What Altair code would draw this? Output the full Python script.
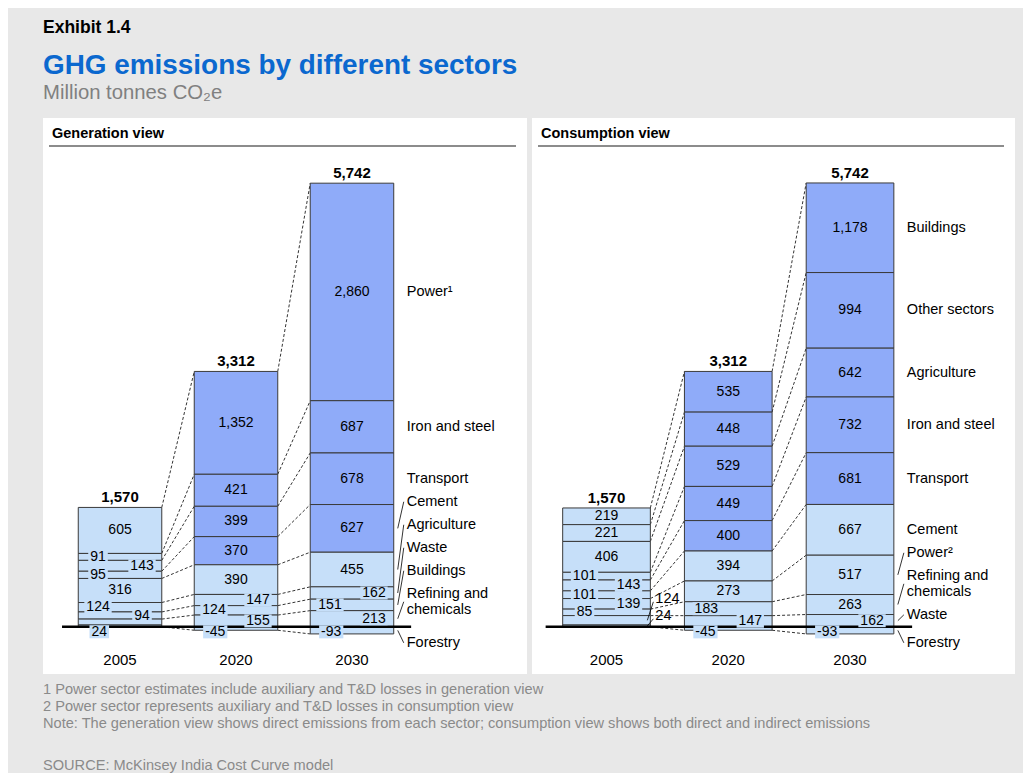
import altair as alt
import pandas as pd

# ---------------- data ----------------
YEARS = [2005, 2020, 2030]

GEN_SECTORS = ["Power¹", "Iron and steel", "Transport", "Cement", "Agriculture",
               "Waste", "Buildings", "Refining and\nchemicals", "Forestry"]
GEN_2005 = [605, 91, 143, 95, 316, 124, 94, 78, 24]
GEN_2020 = [1352, 421, 399, 370, 390, 147, 124, 155, -45]
GEN_2030 = [2860, 687, 678, 627, 455, 162, 151, 213, -93]
GEN_TOTALS = [1570, 3312, 5742]
GEN_DARK = ["Power¹", "Iron and steel", "Transport", "Cement"]

CON_SECTORS = ["Buildings", "Other sectors", "Agriculture", "Iron and steel", "Transport",
               "Cement", "Power²", "Refining and\nchemicals", "Waste", "Forestry"]
CON_2005 = [219, 221, 406, 101, 143, 101, 139, 85, 124, 24]
CON_2020 = [535, 448, 529, 449, 400, 394, 273, 183, 147, -45]
CON_2030 = [1178, 994, 642, 732, 681, 667, 517, 263, 162, -93]
CON_TOTALS = [1570, 3312, 5742]
CON_DARK = ["Buildings", "Other sectors", "Agriculture", "Iron and steel", "Transport"]

EXHIBIT = "Exhibit 1.4"
TITLE = "GHG emissions by different sectors"
SUBTITLE = "Million tonnes CO₂e"
PANEL_TITLES = ["Generation view", "Consumption view"]
FOOTNOTES = [
    "1 Power sector estimates include auxiliary and T&D losses in generation view",
    "2 Power sector represents auxiliary and T&D losses in consumption view",
    "Note: The generation view shows direct emissions from each sector; consumption view shows both direct and indirect emissions",
]
SOURCE = "SOURCE: McKinsey India Cost Curve model"

# ---------------- style ----------------
FONT = "Liberation Sans"
DARK = "#8FABF9"
LIGHT = "#C6DFF9"
EDGE = "#3A3A3A"
BG = "#E8E8E8"
TITLE_BLUE = "#0B68CF"
NOTE_GREY = "#8A8A8A"
FS = 14
FS_LABEL = 14.5
FS_NOTE = 14.6

PANEL_H = 556
Y_DOMAIN = [-620, 6690]
PPU = PANEL_H / (Y_DOMAIN[1] - Y_DOMAIN[0])  # pixels per data unit
BAR_HALF = 0.36
CENTER_MIN = 215
BIG_MIN = 635

ONE = pd.DataFrame({"k": [0]})


def text_w(s, size=FS):
    w = 0.0
    for ch in s:
        if ch.isdigit():
            w += 0.556
        elif ch == "-":
            w += 0.333
        elif ch == ",":
            w += 0.278
        else:
            w += 0.556
    return w * size


def fmt(v):
    return f"{v:,}"


def ptext(text, x, y, size, color="black", weight="normal", baseline="alphabetic"):
    return alt.Chart(ONE).mark_text(
        text=text, align="left", baseline=baseline, font=FONT, fontSize=size,
        fontWeight=weight, color=color
    ).encode(x=alt.value(x), y=alt.value(y))


def panel(idx_panel, sectors, series, totals, dark, width, xdom, overrides, extra_layers):
    pxu = width / (xdom[1] - xdom[0])
    xs = alt.Scale(domain=xdom, nice=False, zero=False)
    ys = alt.Scale(domain=Y_DOMAIN, nice=False, zero=False)

    segs = []
    for i, (year, vals) in enumerate(zip(YEARS, series)):
        pos, neg = 0.0, 0.0
        spans = {}
        for s, v in list(zip(sectors, vals))[::-1]:
            if v >= 0:
                spans[s] = (pos, pos + v)
                pos += v
            else:
                spans[s] = (neg + v, neg)
                neg += v
        for s, v in zip(sectors, vals):
            y0, y1 = spans[s]
            segs.append(dict(year=year, idx=i, sector=s, value=v, y0=y0, y1=y1,
                             mid=(y0 + y1) / 2, x0=i - BAR_HALF, x1=i + BAR_HALF,
                             fill=DARK if (year != YEARS[0] and s in dark) else LIGHT))
    seg = pd.DataFrame(segs)

    centered, boxes, lefts, leads, conns, tots = [], [], [], [], [], []
    for i, year in enumerate(YEARS):
        bar = seg[seg.year == year].reset_index(drop=True)
        forest_neg = bar.loc[bar.sector == "Forestry", "value"].iloc[0] < 0
        modes = []
        for _, r in bar.iterrows():
            key = (year, r.sector)
            if key in overrides:
                m = overrides[key]
            elif r.sector == "Forestry":
                m = "box"
            elif abs(r.value) >= CENTER_MIN:
                m = "center"
            else:
                m = "side"
            modes.append(m)
        runs, cur = [], []
        for k, m in enumerate(modes):
            if m == "side":
                cur.append(k)
            else:
                if cur:
                    runs.append(cur)
                cur = []
        if cur:
            runs.append(cur)
        sides = {}
        for run in runs:
            seq = run[::-1] if forest_neg else run
            first = 1 if forest_neg else -1
            for j, k in enumerate(seq):
                sides[k] = first if j % 2 == 0 else -first
        n_out = 0
        for k in range(len(bar) - 1, -1, -1):
            r = bar.loc[k]
            m = modes[k]
            t = fmt(int(r.value))
            tw = text_w(t)
            if m == "center":
                centered.append(dict(x=i, y=r.mid, text=t))
            elif m in ("side", "box"):
                if m == "side":
                    cx = i + sides[k] * 22 / pxu
                    cy = r.mid
                else:
                    cx = i - BAR_HALF + 21 / pxu
                    cy = -5 / PPU
                centered.append(dict(x=cx, y=cy, text=t))
                boxes.append(dict(x=cx - (tw + 4) / 2 / pxu, x2=cx + (tw + 4) / 2 / pxu,
                                  y=cy - 6.5 / PPU, y2=cy + 6.5 / PPU, fill=r.fill))
            elif m == "outside":
                ly = (11 + 17 * n_out) / PPU
                n_out += 1
                lefts.append(dict(x=i + BAR_HALF + 5 / pxu, y=ly, text=t))
                leads.append(dict(x=i + BAR_HALF - 3 / pxu, y=r.mid,
                                  x2=i + BAR_HALF + 3 / pxu, y2=ly - 3 / PPU))
        tots.append(dict(x=i, y=bar.y1.max(), text=fmt(totals[i])))

    # sector names to the right of the last bar
    last = seg[seg.idx == len(YEARS) - 1].reset_index(drop=True)
    li = len(YEARS) - 1
    prev_first, prev_lines = None, 1
    for _, r in last.iterrows():
        lines = r.sector.count("\n") + 1
        mid_px = -r.mid * PPU
        if r.sector == "Forestry":
            first, listed = 16, True
        elif abs(r.value) >= BIG_MIN or prev_first is None:
            first, listed = mid_px, False
        else:
            first, listed = prev_first + 16 * (prev_lines - 1) + 23, True
        center = first + 8 * (lines - 1)
        # multi-line text: the first line sits at y, further lines go down
        lefts.append(dict(x=li + BAR_HALF + 13 / pxu, y=-first / PPU, text=r.sector))
        if listed:
            leads.append(dict(x=li + BAR_HALF + 4 / pxu, y=r.mid,
                              x2=li + BAR_HALF + 10 / pxu, y2=-center / PPU))
        prev_first, prev_lines = first, lines

    for i in range(len(YEARS) - 1):
        a = seg[seg.idx == i].set_index("sector")
        b = seg[seg.idx == i + 1].set_index("sector")
        for s in sectors:
            col = "y0" if s == "Forestry" else "y1"
            conns.append(dict(x=i + BAR_HALF, x2=i + 1 - BAR_HALF,
                              y=a.loc[s, col], y2=b.loc[s, col]))

    X = lambda f: alt.X(f, type="quantitative", scale=xs, axis=None)
    Y = lambda f: alt.Y(f, type="quantitative", scale=ys, axis=None)

    layers = list(extra_layers)
    layers.append(ptext(PANEL_TITLES[idx_panel], 9, 16, 14.5, weight="bold", baseline="middle"))
    layers.append(alt.Chart(ONE).mark_rule(color="#8C8C8C", strokeWidth=2).encode(
        x=alt.value(6), x2=alt.value(width - 11), y=alt.value(28)))
    layers.append(alt.Chart(pd.DataFrame(conns)).mark_rule(
        color="black", strokeWidth=0.8, strokeDash=[3, 2]).encode(
        x=X("x"), x2="x2", y=Y("y"), y2="y2"))
    layers.append(alt.Chart(seg).mark_rect(stroke=EDGE, strokeWidth=1).encode(
        x=X("x0"), x2="x1", y=Y("y0"), y2="y1",
        fill=alt.Fill("fill:N", scale=None)))
    layers.append(alt.Chart(pd.DataFrame([dict(x=-0.5, x2=2.51, y=0)])).mark_rule(
        color="black", strokeWidth=2.5).encode(x=X("x"), x2="x2", y=Y("y")))
    if boxes:
        layers.append(alt.Chart(pd.DataFrame(boxes)).mark_rect().encode(
            x=X("x"), x2="x2", y=Y("y"), y2="y2", fill=alt.Fill("fill:N", scale=None)))
    layers.append(alt.Chart(pd.DataFrame(centered)).mark_text(
        font=FONT, fontSize=FS, baseline="middle", align="center", color="black").encode(
        x=X("x"), y=Y("y"), text="text:N"))
    layers.append(alt.Chart(pd.DataFrame(leads)).mark_rule(color="black", strokeWidth=0.8).encode(
        x=X("x"), x2="x2", y=Y("y"), y2="y2"))
    layers.append(alt.Chart(pd.DataFrame(lefts)).mark_text(
        font=FONT, fontSize=FS_LABEL, baseline="middle", align="left", color="black",
        lineBreak="\n", lineHeight=16).encode(x=X("x"), y=Y("y"), text="text:N"))
    layers.append(alt.Chart(pd.DataFrame(tots)).mark_text(
        font=FONT, fontSize=15, fontWeight="bold", baseline="alphabetic", align="center",
        dy=-5, color="black").encode(x=X("x"), y=Y("y"), text="text:N"))
    layers.append(alt.Chart(pd.DataFrame([dict(x=i, text=str(y)) for i, y in enumerate(YEARS)])).mark_text(
        font=FONT, fontSize=15, baseline="middle", align="center", color="black").encode(
        x=X("x"), y=alt.value(542), text="text:N"))
    return alt.layer(*layers).properties(width=width, height=PANEL_H)


GEN_W, CON_W = 484, 483

gen_extra = [
    alt.Chart(ONE).mark_rect(opacity=0).encode(
        x=alt.value(-35), x2=alt.value(10), y=alt.value(-110), y2=alt.value(655)),
    ptext(EXHIBIT, 0, -85, 17.5, weight="bold"),
    ptext(TITLE, 0, -44, 27.9, color=TITLE_BLUE, weight="bold"),
    ptext(SUBTITLE, 0, -19, 20.3, color="#808080"),
    ptext(FOOTNOTES[0], 0, 576, FS_NOTE, color=NOTE_GREY),
    ptext(FOOTNOTES[1], 0, 593, FS_NOTE, color=NOTE_GREY),
    ptext(FOOTNOTES[2], 0, 610, FS_NOTE, color=NOTE_GREY),
    ptext(SOURCE, 0, 652, FS_NOTE, color=NOTE_GREY),
]
con_extra = [
    alt.Chart(ONE).mark_rect(opacity=0).encode(
        x=alt.value(400), x2=alt.value(CON_W + 8), y=alt.value(0), y2=alt.value(10)),
]

gen = panel(0, GEN_SECTORS, [GEN_2005, GEN_2020, GEN_2030], GEN_TOTALS, GEN_DARK,
            GEN_W, [-0.664, 3.509], {(2005, "Refining and\nchemicals"): "none"}, gen_extra)
con = panel(1, CON_SECTORS, [CON_2005, CON_2020, CON_2030], CON_TOTALS, CON_DARK,
            CON_W, [-0.612, 3.355],
            {(2005, "Waste"): "outside", (2005, "Forestry"): "outside"}, con_extra)

chart = alt.hconcat(gen, con, spacing=5, bounds="flush").resolve_scale(
    x="independent", y="independent"
).properties(padding=0, background=BG).configure_view(fill="white", stroke=None)

chart.save("out.html", embed_options={"renderer": "svg", "actions": False})
